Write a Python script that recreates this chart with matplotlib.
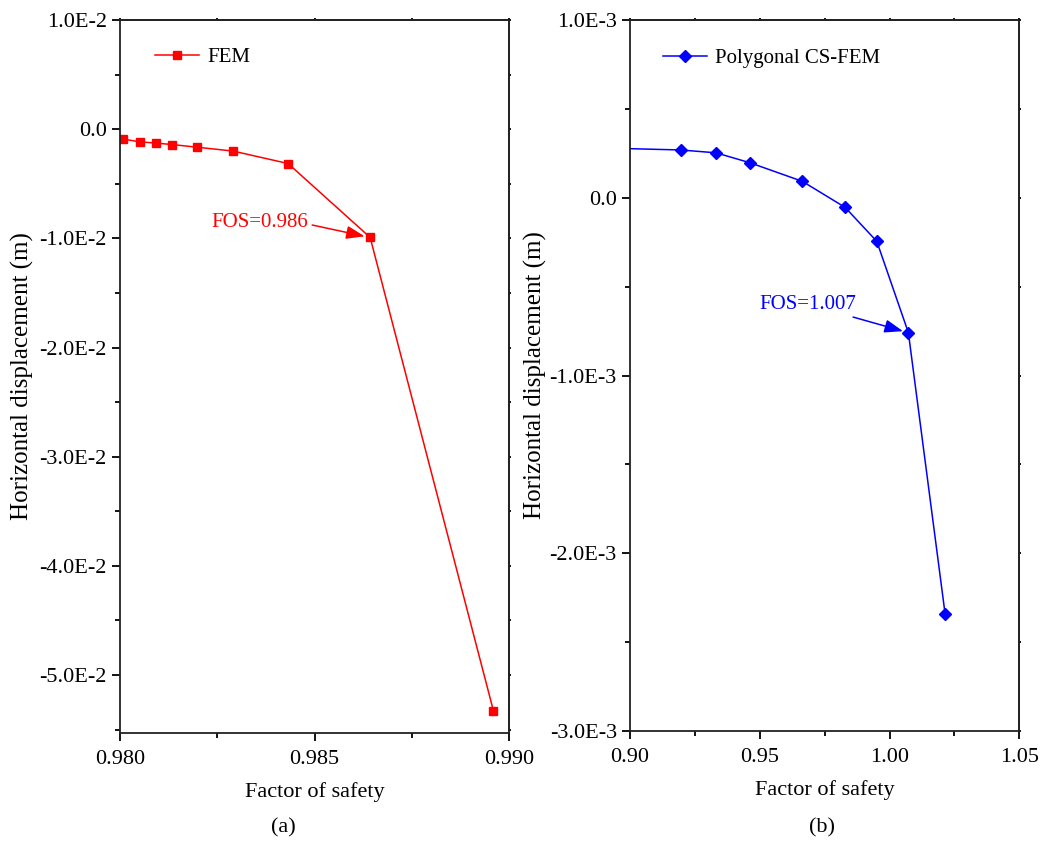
import matplotlib
matplotlib.use("Agg")
import matplotlib.pyplot as plt
from matplotlib.ticker import MultipleLocator, FuncFormatter, NullFormatter

plt.rcParams["font.family"] = ["Liberation Serif", "DejaVu Serif"]
plt.rcParams["font.size"] = 16

# FEM data (panel a)
fem_fos = [0.98008, 0.98051, 0.98093, 0.98134, 0.98197, 0.98291, 0.98432, 0.98643, 0.98960]
fem_disp = [-0.000915, -0.00116, -0.00128, -0.00141, -0.00165, -0.00201, -0.00315, -0.00992, -0.05328]
fem_fail_idx = 7

# Polygonal CS-FEM data (panel b), first point lies left of the axis
cs_fos = [0.890, 0.91954, 0.93314, 0.94624, 0.96640, 0.98285, 0.99507, 1.00724, 1.02139]
cs_disp = [0.000280, 0.000269, 0.000253, 0.000197, 0.0000925, -0.0000537, -0.000245, -0.000759, -0.002342]
cs_fail_idx = 7


def sci_fmt(exp):
    def f(v, pos):
        if abs(v) < 1e-12:
            return "0.0"
        return "%.1fE-%d" % (v / 10 ** (-exp), exp)
    return FuncFormatter(f)


def style_axes(ax, xmaj, xmin, ymaj, ymin):
    for s in ax.spines.values():
        s.set_linewidth(1.3)
        s.set_color("#222222")
    ax.xaxis.set_major_locator(MultipleLocator(xmaj))
    ax.xaxis.set_minor_locator(MultipleLocator(xmin))
    ax.yaxis.set_major_locator(MultipleLocator(ymaj))
    ax.yaxis.set_minor_locator(MultipleLocator(ymin))
    ax.tick_params(which="major", direction="out", length=6, width=1.3)
    ax.tick_params(which="minor", direction="out", length=3.5, width=1.3)
    ax.tick_params(axis="x", pad=6)
    # tiny mirrored ticks on top / right
    top = ax.secondary_xaxis("top")
    right = ax.secondary_yaxis("right")
    top.xaxis.set_major_locator(MultipleLocator(xmaj))
    top.xaxis.set_minor_locator(MultipleLocator(xmin))
    right.yaxis.set_major_locator(MultipleLocator(ymaj))
    right.yaxis.set_minor_locator(MultipleLocator(ymin))
    for sec in (top, right):
        sec.tick_params(which="both", direction="out", length=1.5, width=1.3,
                        labeltop=False, labelright=False)
        for s in sec.spines.values():
            s.set_linewidth(1.3)
            s.set_color("#222222")
    top.xaxis.set_major_formatter(NullFormatter())
    right.yaxis.set_major_formatter(NullFormatter())


fig = plt.figure(figsize=(10.42, 8.42), dpi=100)
ax1 = fig.add_axes([0.1152, 0.1295, 0.3733, 0.8468])
ax2 = fig.add_axes([0.6046, 0.1318, 0.3737, 0.8444])

# PANEL A
ax1.plot(fem_fos, fem_disp, color="red", lw=1.1, marker="s", ms=6.3,
         mec="red", mfc="red", label="FEM")
ax1.set_xlim(0.980, 0.990)
ax1.set_ylim(-0.0553, 0.01)
style_axes(ax1, 0.005, 0.0025, 0.01, 0.005)
ax1.xaxis.set_major_formatter(FuncFormatter(lambda v, p: "%.3f" % v))
ax1.yaxis.set_major_formatter(sci_fmt(2))
ax1.set_xlabel("Factor of safety", labelpad=10)
ax1.set_ylabel("Horizontal displacement (m)", labelpad=4, fontsize=18)
ax1.legend(loc="upper left", frameon=False, handlelength=2.1, handletextpad=0.4,
           bbox_to_anchor=(0.042, 0.988), fontsize=15)
ax1.text(0.98358, -0.00851, "FOS=0.986", color="red", ha="center", va="center", fontsize=15)
ax1.annotate("", xy=(fem_fos[fem_fail_idx], fem_disp[fem_fail_idx]), xytext=(0.98494, -0.00878),
             arrowprops=dict(arrowstyle="-|>,head_length=0.7,head_width=0.25", color="red",
                             lw=1.1, shrinkA=0, shrinkB=4))

# PANEL B
ax2.plot(cs_fos, cs_disp, color="blue", lw=1.1, marker="D", ms=6.3,
         mec="blue", mfc="blue", label="Polygonal CS-FEM")
ax2.set_xlim(0.90, 1.05)
ax2.set_ylim(-0.003, 0.001)
style_axes(ax2, 0.05, 0.025, 0.001, 0.0005)
ax2.xaxis.set_major_formatter(FuncFormatter(lambda v, p: "%.2f" % v))
ax2.yaxis.set_major_formatter(sci_fmt(3))
ax2.set_xlabel("Factor of safety", labelpad=10)
ax2.set_ylabel("Horizontal displacement (m)", labelpad=2, fontsize=18)
ax2.legend(loc="upper left", frameon=False, handlelength=2.1, handletextpad=0.4,
           bbox_to_anchor=(0.037, 0.986), fontsize=15)
ax2.text(0.96859, -0.000603, "FOS=1.007", color="blue", ha="center", va="center", fontsize=15)
ax2.annotate("", xy=(cs_fos[cs_fail_idx], cs_disp[cs_fail_idx]), xytext=(0.98594, -0.000671),
             arrowprops=dict(arrowstyle="-|>,head_length=0.7,head_width=0.25", color="blue",
                             lw=1.1, shrinkA=0, shrinkB=4))

fig.text(283 / 1042, 1 - 828 / 842, "(a)", ha="center", va="center", fontsize=16)
fig.text(822 / 1042, 1 - 828 / 842, "(b)", ha="center", va="center", fontsize=16)

fig.savefig("out.png", dpi=100)
